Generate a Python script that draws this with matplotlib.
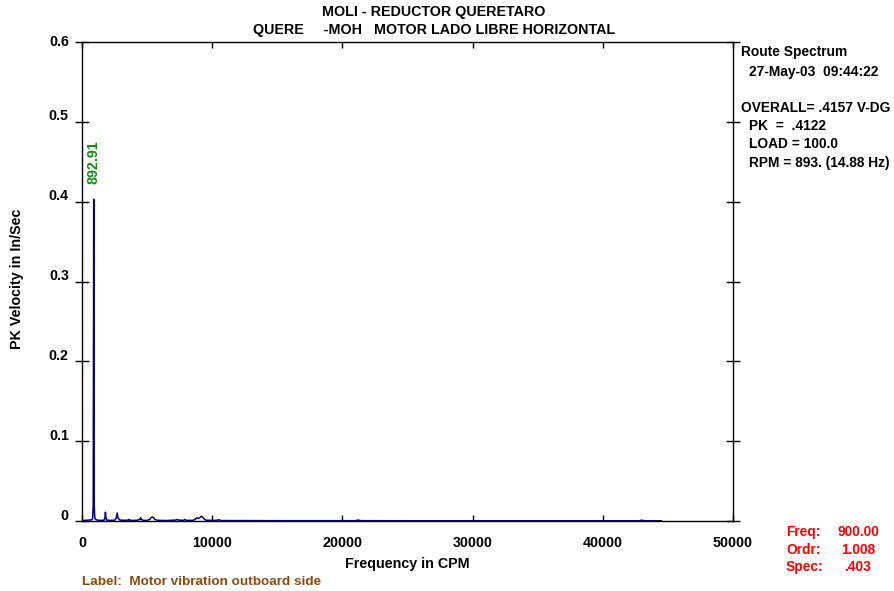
import matplotlib
matplotlib.use("Agg")
import matplotlib.pyplot as plt
from matplotlib.transforms import ScaledTranslation

plt.rcParams['font.family'] = ['Liberation Sans', 'DejaVu Sans']
plt.rcParams['font.weight'] = 'bold'

# Spectrum points (CPM, in/sec)
freq = [0, 200, 400, 600, 750, 820, 860, 880, 900, 920, 940, 980, 1050, 1200, 1500,
        1700, 1760, 1800, 1840, 1900, 2100, 2500, 2640, 2700, 2760, 2900, 3300, 3550,
        3600, 3650, 3800, 4200, 4450, 4500, 4550, 4700, 5000, 5200, 5300, 5400, 5500,
        5600, 5800, 6500, 7200, 7300, 7400, 7800, 7900, 8000, 8500, 8700, 8800, 8950,
        9100, 9200, 9300, 9500, 10000, 10300, 10500, 10700, 11500, 12500, 15000, 18000,
        20000, 21000, 21200, 21400, 25000, 30000, 35000, 40000, 42800, 43000, 43200, 44500]
amp = [0.0, 0.0008, 0.001, 0.0012, 0.0015, 0.003, 0.02, 0.2, 0.403, 0.2, 0.02, 0.004,
       0.002, 0.001, 0.0008, 0.001, 0.004, 0.011, 0.004, 0.0012, 0.0008, 0.0008, 0.004,
       0.010, 0.004, 0.0012, 0.0008, 0.0012, 0.002, 0.0012, 0.0008, 0.0008, 0.002, 0.004,
       0.002, 0.0008, 0.0008, 0.002, 0.004, 0.005, 0.004, 0.002, 0.0008, 0.0006, 0.0012,
       0.002, 0.0012, 0.0008, 0.002, 0.0008, 0.0008, 0.002, 0.004, 0.003, 0.005, 0.006,
       0.004, 0.001, 0.0008, 0.0008, 0.0015, 0.0006, 0.0005, 0.0005, 0.0004, 0.0004,
       0.0004, 0.0004, 0.0012, 0.0004, 0.0003, 0.0003, 0.0003, 0.0003, 0.0003, 0.0010,
       0.0003, 0.0003]

xticks = [0, 10000, 20000, 30000, 40000, 50000]
yticks = [0, 0.1, 0.2, 0.3, 0.4, 0.5, 0.6]
ytick_labels = ["0", "0.1", "0.2", "0.3", "0.4", "0.5", "0.6"]

peak_freq = 892.91
peak_amp = 0.403

title1 = "MOLI - REDUCTOR QUERETARO"
title2 = "QUERE     -MOH   MOTOR LADO LIBRE HORIZONTAL"

FS = 10.3
FS_INFO = 9.9
W, H = 894, 591
fig = plt.figure(figsize=(W / 100, H / 100), dpi=100)
ax = fig.add_axes([82 / W, 1 - 521 / H, (733 - 82) / W, (521 - 42) / H])

ax.plot(freq, amp, color='#000080', lw=1.1)
ax.set_xlim(0, 50000)
ax.set_ylim(0, 0.6)

ax.set_xticks(xticks)
ax.set_xticklabels([str(v) for v in xticks], fontsize=FS, fontweight='bold')
ax.set_yticks(yticks)
ax.set_yticklabels(ytick_labels, fontsize=FS, fontweight='bold')

ax.tick_params(axis='x', which='both', direction='in', length=4, width=1,
               top=True, bottom=True, pad=11)
ax.tick_params(axis='y', which='both', direction='inout', length=10, width=1,
               left=True, right=True, pad=4.5)

for lab, v in zip(ax.get_yticklabels(), yticks):
    dy = 1 if v >= 0.6 else 7
    lab.set_transform(lab.get_transform() + ScaledTranslation(0, dy / 100, fig.dpi_scale_trans))

for s in ax.spines.values():
    s.set_linewidth(1.0)
    s.set_color('black')

ax.set_xlabel("Frequency in CPM", fontsize=FS, fontweight='bold', labelpad=5)
fig.text(17 / W, 1 - 279 / H, "PK Velocity in In/Sec", rotation=90, ha='center',
         va='center', fontsize=FS, fontweight='bold')

fig.text(434 / W, 1 - 12 / H, title1, ha='center', va='center', fontsize=FS, fontweight='bold')
fig.text(434 / W, 1 - 30 / H, title2, ha='center', va='center', fontsize=FS, fontweight='bold')

ax.annotate(f"{peak_freq:.2f}", xy=(peak_freq, peak_amp), xytext=(0, 15),
            textcoords='offset pixels', rotation=90, ha='center', va='bottom',
            color='#128c12', fontsize=FS, fontweight='bold')

info = [
    (741, 52, "Route Spectrum"),
    (749, 72, "27-May-03  09:44:22"),
    (741, 108, "OVERALL= .4157 V-DG"),
    (749, 126, "PK  =  .4122"),
    (749, 144, "LOAD = 100.0"),
    (749, 163, "RPM = 893. (14.88 Hz)"),
]
for x, y, t in info:
    fig.text(x / W, 1 - y / H, t, ha='left', va='center', fontsize=FS_INFO, fontweight='bold')

red_names = ["Freq:", "Ordr:", "Spec:"]
red_vals = ["900.00", "1.008", ".403"]
for i, (n, v) in enumerate(zip(red_names, red_vals)):
    y = 532 + i * 17.5
    fig.text(786 / W, 1 - y / H, n, ha='left', va='center', fontsize=FS_INFO,
             fontweight='bold', color='#ff0000')
    fig.text(858 / W, 1 - y / H, v, ha='center', va='center', fontsize=FS_INFO,
             fontweight='bold', color='#ff0000')

fig.text(82 / W, 1 - 582 / H, "Label:  Motor vibration outboard side", ha='left',
         va='center', fontsize=9.7, fontweight='bold', color='#8b4a0e')

fig.savefig("out.png", dpi=100)
